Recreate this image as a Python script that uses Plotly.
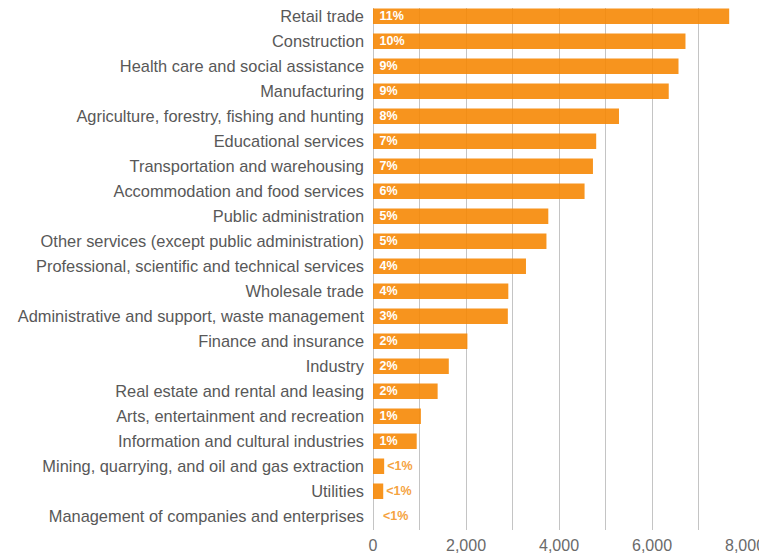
import plotly.graph_objects as go

categories = [
    "Retail trade",
    "Construction",
    "Health care and social assistance",
    "Manufacturing",
    "Agriculture, forestry, fishing and hunting",
    "Educational services",
    "Transportation and warehousing",
    "Accommodation and food services",
    "Public administration",
    "Other services (except public administration)",
    "Professional, scientific and technical services",
    "Wholesale trade",
    "Administrative and support, waste management",
    "Finance and insurance",
    "Industry",
    "Real estate and rental and leasing",
    "Arts, entertainment and recreation",
    "Information and cultural industries",
    "Mining, quarrying, and oil and gas extraction",
    "Utilities",
    "Management of companies and enterprises",
]
values = [7660, 6720, 6570, 6360, 5290, 4800, 4730, 4550, 3770, 3730, 3290,
          2910, 2900, 2030, 1630, 1390, 1030, 940, 240, 220, 0]
shares = ["11%", "10%", "9%", "9%", "8%", "7%", "7%", "6%", "5%", "5%", "4%",
          "4%", "3%", "2%", "2%", "2%", "1%", "1%", "<1%", "<1%", "<1%"]
tick_values = [0, 2000, 4000, 6000, 8000]
tick_labels = ["0", "2,000", "4,000", "6,000", "8,000"]

ORANGE = "rgba(246,136,5,0.9)"
ORANGE_TEXT = "#F5A33F"
FONT = "Liberation Sans, Arial, sans-serif"

small = [s.startswith("<") for s in shares]
positions = ["outside" if sm else "inside" for sm in small]
text_colors = [ORANGE_TEXT if sm else "white" for sm in small]
bar_text = [("\u00a0\u00a0" if v == 0 else "") + s if sm else "\u00a0" + s
            for s, sm, v in zip(shares, small, values)]

fig = go.Figure(go.Bar(
    x=values,
    y=categories,
    orientation="h",
    marker=dict(color=ORANGE, line=dict(width=0)),
    text=bar_text,
    textposition=positions,
    insidetextanchor="start",
    textfont=dict(color=text_colors, size=12.5, family=FONT, weight="bold"),
    cliponaxis=False,
    width=0.62,
))

fig.update_layout(
    width=767,
    height=556,
    margin=dict(l=365, r=30, t=0, b=34),
    paper_bgcolor="white",
    plot_bgcolor="white",
    showlegend=False,
    font=dict(family=FONT, color="#5a5a5a", size=16),
    uniformtext=dict(minsize=12, mode="show"),
)
fig.update_xaxes(
    range=[0, 8000],
    tickvals=tick_values,
    ticktext=tick_labels,
    showgrid=True,
    gridcolor="#c4c4c4",
    gridwidth=1,
    minor=dict(dtick=1000, showgrid=True, gridcolor="#c4c4c4", gridwidth=1),
    zeroline=True,
    zerolinecolor="#c4c4c4",
    zerolinewidth=1,
    showline=False,
    ticks="",
    ticklabelstandoff=4,
    tickfont=dict(size=16, color="#6a6a6a"),
    automargin=False,
    fixedrange=True,
)
fig.update_yaxes(
    range=[20.55, -0.33],
    showgrid=False,
    ticks="",
    ticklabelstandoff=8,
    tickfont=dict(size=16.4, color="#585858"),
    automargin=False,
    fixedrange=True,
)

fig.write_html("out.html")
